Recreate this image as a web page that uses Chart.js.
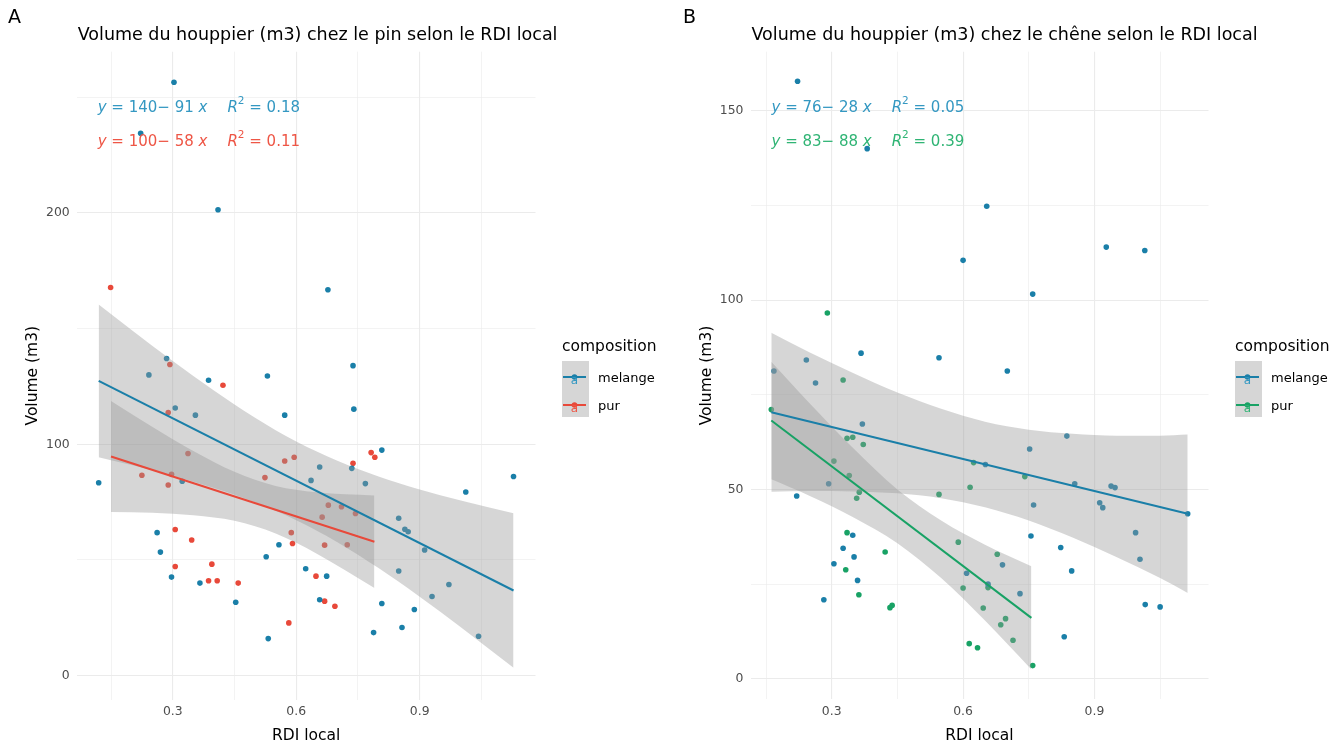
<!DOCTYPE html>
<html>
<head>
<meta charset="utf-8">
<script src="https://cdn.jsdelivr.net/npm/chart.js@4.4.1/dist/chart.umd.min.js"></script>
<style>
  html, body { margin: 0; padding: 0; background: #fff; }
  #wrap { position: relative; width: 1344px; height: 745px; overflow: hidden; }
  #wrap canvas { position: absolute; top: 0; }
</style>
</head>
<body>
<div id="wrap">
  <canvas id="chartA" width="672" height="745" style="left:0"></canvas>
  <canvas id="chartB" width="672" height="745" style="left:672px"></canvas>
</div>
<script>
// ---- data ----

// Panel A : pin
const pinMelange = [
  [0.303, 256.5], [0.222, 234.4], [0.41, 201.4], [0.677, 166.8], [0.285, 137.1],
  [0.242, 130.0], [0.53, 129.5], [0.738, 134.0], [0.387, 127.7], [0.306, 115.7],
  [0.355, 112.6], [0.572, 112.6], [0.74, 115.2], [0.808, 97.5], [0.735, 89.6],
  [0.657, 90.2], [0.12, 83.4], [0.323, 84.0], [0.636, 84.4], [0.768, 83.0],
  [1.128, 86.1], [1.012, 79.4], [0.849, 68.0], [0.864, 63.3], [0.872, 62.2],
  [0.262, 61.8], [0.558, 56.6], [0.912, 54.3], [0.27, 53.4], [0.527, 51.4],
  [0.623, 46.2], [0.297, 42.6], [0.366, 40.0], [0.674, 43.0], [0.971, 39.4],
  [0.849, 45.2], [0.93, 34.2], [0.453, 31.7], [0.657, 32.8], [0.808, 31.2],
  [0.887, 28.6], [0.857, 20.8], [0.788, 18.6], [0.532, 16.0], [1.043, 17.0]
];
const pinPur = [
  [0.149, 167.8], [0.293, 134.5], [0.422, 125.5], [0.289, 113.7], [0.782, 96.4],
  [0.791, 94.4], [0.337, 96.0], [0.572, 92.8], [0.595, 94.4], [0.738, 91.8],
  [0.225, 86.6], [0.297, 87.0], [0.289, 82.4], [0.524, 85.6], [0.678, 73.7],
  [0.71, 73.0], [0.744, 70.1], [0.663, 68.5], [0.306, 63.2], [0.346, 58.6],
  [0.588, 61.8], [0.591, 57.1], [0.669, 56.4], [0.724, 56.6], [0.395, 48.2],
  [0.306, 47.2], [0.387, 41.0], [0.408, 41.0], [0.459, 40.0], [0.648, 43.0],
  [0.669, 32.2], [0.694, 30.0], [0.582, 22.8]
];
// fitted lines (ends) and confidence bands
const pinMelangeFitX = [0.12, 1.128];
const pinMelangeFitY = [127.4, 36.8];
const pinPurFitX = [0.15, 0.79];
const pinPurFitY = [94.7, 57.9];
const pinMelangeBandX  = [0.12, 0.2, 0.3, 0.4, 0.5, 0.6, 0.7, 0.8, 0.9, 1.0, 1.128];
const pinMelangeBandHi = [160.4, 149.4, 136.0, 123.3, 111.5, 101.2, 92.9, 86.1, 80.5, 75.7, 70.2];
const pinMelangeBandLo = [94.4, 91.0, 86.4, 81.1, 74.9, 67.2, 57.7, 46.5, 34.1, 20.9, 3.4];
const pinPurBandX  = [0.15, 0.25, 0.35, 0.45, 0.55, 0.65, 0.79];
const pinPurBandHi = [118.7, 107.6, 97.1, 88.1, 82.0, 79.3, 77.9];
const pinPurBandLo = [70.7, 70.4, 69.3, 66.9, 61.4, 52.7, 37.9];
const pinEqIntercept = [140, 100];
const pinEqSlope = [91, 58];
const pinEqR2 = ['0.18', '0.11'];

// Panel B : chene
const cheneMelange = [
  [0.222, 157.8], [0.381, 140.0], [0.654, 124.8], [0.6, 110.5], [0.927, 114.0],
  [1.015, 113.1], [0.759, 101.6], [0.367, 86.0], [0.545, 84.8], [0.242, 84.2],
  [0.701, 81.3], [0.168, 81.3], [0.263, 78.1], [0.37, 67.3], [0.837, 64.1],
  [0.752, 60.7], [0.651, 56.6], [0.293, 51.5], [0.855, 51.5], [0.938, 50.9],
  [0.947, 50.5], [0.22, 48.3], [0.761, 45.9], [0.912, 46.5], [0.919, 45.2],
  [1.113, 43.6], [0.348, 37.9], [0.755, 37.7], [0.994, 38.6], [0.326, 34.5],
  [0.823, 34.7], [0.351, 32.2], [0.69, 30.1], [1.004, 31.6], [0.305, 30.4],
  [0.608, 27.9], [0.848, 28.5], [0.359, 26.0], [0.657, 25.0], [0.73, 22.5],
  [0.282, 20.9], [1.016, 19.6], [1.05, 19.0], [0.831, 11.1]
];
const chenePur = [
  [0.29, 96.6], [0.326, 78.9], [0.162, 71.1], [0.335, 63.5], [0.348, 63.8],
  [0.372, 61.9], [0.305, 57.5], [0.624, 57.1], [0.34, 53.7], [0.741, 53.4],
  [0.616, 50.6], [0.545, 48.7], [0.357, 47.7], [0.363, 49.3], [0.335, 38.6],
  [0.422, 33.5], [0.589, 36.1], [0.678, 32.9], [0.332, 28.8], [0.6, 24.0],
  [0.657, 24.1], [0.362, 22.2], [0.433, 18.8], [0.438, 19.4], [0.646, 18.7],
  [0.697, 15.9], [0.686, 14.3], [0.714, 10.2], [0.614, 9.3], [0.633, 8.2],
  [0.759, 3.5]
];
const cheneMelangeFitX = [0.162, 1.113];
const cheneMelangeFitY = [70.4, 43.6];
const chenePurFitX = [0.162, 0.756];
const chenePurFitY = [68.2, 16.1];
const cheneMelangeBandX  = [0.162, 0.25, 0.35, 0.45, 0.55, 0.65, 0.75, 0.85, 0.95, 1.05, 1.113];
const cheneMelangeBandHi = [91.4, 86.2, 80.7, 75.6, 71.3, 67.9, 65.8, 64.7, 64.2, 64.2, 64.5];
const cheneMelangeBandLo = [49.4, 49.6, 49.5, 49.0, 47.7, 45.3, 41.8, 37.3, 32.2, 26.6, 22.7];
const chenePurBandX  = [0.162, 0.25, 0.35, 0.45, 0.55, 0.65, 0.756];
const chenePurBandHi = [83.7, 72.7, 60.8, 50.0, 41.8, 35.4, 29.7];
const chenePurBandLo = [52.7, 48.3, 42.6, 35.8, 26.6, 15.4, 2.5];
const cheneEqIntercept = [76, 83];
const cheneEqSlope = [28, 88];
const cheneEqR2 = ['0.05', '0.39'];

// axes
const groupNames = ['melange', 'pur'];
const xGridTicks = [0.15, 0.3, 0.45, 0.6, 0.75, 0.9, 1.05];
const xLabelTicks = [0.3, 0.6, 0.9];
const pinYGrid = [0, 50, 100, 150, 200, 250];
const pinYLabels = [0, 100, 200];
const cheneYGrid = [0, 25, 50, 75, 100, 125, 150];
const cheneYLabels = [0, 50, 100, 150];

// ---- styling ----
const FONT = '"DejaVu Sans", sans-serif';
const BLUE = '#1a7fa8';
const RED = '#e8493a';
const GREEN = '#18a265';
const BAND = 'rgba(153,153,153,0.4)';
const GRID = '#ebebeb';

const toXY = (xs, ys) => xs.map((x, i) => ({ x: x, y: ys[i] }));
const toPts = arr => arr.map(p => ({ x: p[0], y: p[1] }));

function drawRich(ctx, parts, x, y, size, color) {
  ctx.fillStyle = color;
  ctx.textBaseline = 'middle';
  ctx.textAlign = 'left';
  parts.forEach(s => {
    const sz = s.sup ? size * 0.7 : size;
    ctx.font = (s.it ? 'italic ' : '') + sz + 'px ' + FONT;
    ctx.fillText(s.t, x, s.sup ? y - size * 0.42 : y);
    x += ctx.measureText(s.t).width;
  });
  return x;
}

function decorPlugin(p) {
  return {
    id: 'decor',
    afterDraw(chart) {
      const ctx = chart.ctx;
      const area = chart.chartArea;
      ctx.save();
      // tag
      ctx.fillStyle = '#000';
      ctx.textBaseline = 'middle';
      ctx.textAlign = 'left';
      ctx.font = '19px ' + FONT;
      ctx.fillText(p.tag, p.tagX, 18.5);
      // title
      ctx.font = '17.5px ' + FONT;
      ctx.fillText(p.title, area.left + 1, 35);
      // regression equations
      p.groups.forEach((g, i) => {
        const y = 108 + i * 34;
        const end = drawRich(ctx, [
          { t: 'y', it: true },
          { t: ' = ' + p.eqIntercept[i] + '\u2212 ' + p.eqSlope[i] + ' ' },
          { t: 'x', it: true }
        ], area.left + 21, y, 15, g.textColor);
        drawRich(ctx, [
          { t: 'R', it: true },
          { t: '2', sup: true },
          { t: ' = ' + p.eqR2[i] }
        ], end + 20, y, 15, g.textColor);
      });
      // legend
      const lx = p.legendX;
      ctx.fillStyle = '#000';
      ctx.font = '15.5px ' + FONT;
      ctx.fillText('composition', lx, 347);
      ctx.fillStyle = '#d6d6d6';
      ctx.fillRect(lx, 361, 27, 56);
      p.groups.forEach((g, i) => {
        const cy = 379 + i * 28;
        ctx.strokeStyle = g.color;
        ctx.lineWidth = 2;
        ctx.beginPath();
        ctx.moveTo(lx + 1, cy - 2);
        ctx.lineTo(lx + 24, cy - 2);
        ctx.stroke();
        ctx.fillStyle = g.color;
        ctx.beginPath();
        ctx.arc(lx + 12.5, cy - 2, 2.8, 0, Math.PI * 2);
        ctx.fill();
        ctx.fillStyle = g.textColor;
        ctx.font = '12px ' + FONT;
        ctx.textAlign = 'center';
        ctx.fillText('a', lx + 12.5, cy + 2);
        ctx.textAlign = 'left';
        ctx.fillStyle = '#000';
        ctx.font = '13px ' + FONT;
        ctx.fillText(groupNames[i], lx + 36, cy);
      });
      ctx.restore();
    }
  };
}

function makePanel(canvasId, p) {
  const datasets = [];
  p.groups.forEach(g => {
    datasets.push({
      type: 'line', data: toXY(g.fitX, g.fitY), borderColor: g.color,
      borderWidth: 2, pointRadius: 0, fill: false, order: 0
    });
  });
  p.groups.forEach(g => {
    const idx = datasets.length;
    datasets.push({
      type: 'line', data: toXY(g.bandX, g.bandHi), borderColor: 'transparent',
      borderWidth: 0, pointRadius: 0, backgroundColor: BAND, fill: idx + 1,
      cubicInterpolationMode: 'monotone', order: 1
    });
    datasets.push({
      type: 'line', data: toXY(g.bandX, g.bandLo), borderColor: 'transparent',
      borderWidth: 0, pointRadius: 0, fill: false,
      cubicInterpolationMode: 'monotone', order: 1
    });
  });
  p.groups.forEach(g => {
    datasets.push({
      type: 'scatter', data: toPts(g.points), backgroundColor: g.color,
      borderWidth: 0, pointRadius: 2.8, order: 2
    });
  });

  const tickFont = { family: FONT, size: 12.4 };
  const titleFont = { family: FONT, size: 15.5 };

  return new Chart(document.getElementById(canvasId), {
    type: 'scatter',
    data: { datasets: datasets },
    options: {
      responsive: false,
      animation: false,
      layout: { padding: { top: p.area.top, right: 672 - p.area.right, left: 0, bottom: 0 } },
      plugins: { legend: { display: false }, tooltip: { enabled: false } },
      scales: {
        x: {
          type: 'linear', min: p.xMin, max: p.xMax,
          afterBuildTicks: s => { s.ticks = xGridTicks.map(v => ({ value: v })); },
          afterFit: s => { s.height = 745 - p.area.bottom; },
          ticks: {
            autoSkip: false, maxRotation: 0, padding: 5, color: '#4d4d4d', font: tickFont,
            callback: v => xLabelTicks.includes(v) ? v.toFixed(1) : ''
          },
          grid: {
            color: GRID, drawTicks: false,
            lineWidth: c => (c.tick && xLabelTicks.includes(c.tick.value)) ? 1.1 : 0.6
          },
          border: { display: false },
          title: { display: true, text: 'RDI local', color: '#000', font: titleFont, padding: { top: 0, bottom: 0 } }
        },
        y: {
          type: 'linear', min: p.yMin, max: p.yMax,
          afterBuildTicks: s => { s.ticks = p.yGrid.map(v => ({ value: v })); },
          afterFit: s => { s.width = p.area.left; },
          ticks: {
            autoSkip: false, padding: 7, color: '#4d4d4d', font: tickFont,
            callback: v => p.yLabels.includes(v) ? String(v) : ''
          },
          grid: {
            color: GRID, drawTicks: false,
            lineWidth: c => (c.tick && p.yLabels.includes(c.tick.value)) ? 1.1 : 0.6
          },
          border: { display: false },
          title: { display: true, text: 'Volume (m3)', color: '#000', font: titleFont, padding: { top: p.yTitlePad, bottom: 0 } }
        }
      }
    },
    plugins: [decorPlugin(p)]
  });
}

makePanel('chartA', {
  tag: 'A', tagX: 8,
  title: 'Volume du houppier (m3) chez le pin selon le RDI local',
  area: { left: 76.7, right: 535.5, top: 51.7, bottom: 699.7 },
  xMin: 0.0666, xMax: 1.1814, yMin: -10.4, yMax: 269.7,
  yGrid: pinYGrid, yLabels: pinYLabels, yTitlePad: 23.5,
  legendX: 562,
  eqIntercept: pinEqIntercept, eqSlope: pinEqSlope, eqR2: pinEqR2,
  groups: [
    { color: BLUE, textColor: '#3498c2', points: pinMelange, fitX: pinMelangeFitX, fitY: pinMelangeFitY,
      bandX: pinMelangeBandX, bandHi: pinMelangeBandHi, bandLo: pinMelangeBandLo },
    { color: RED, textColor: '#ee5646', points: pinPur, fitX: pinPurFitX, fitY: pinPurFitY,
      bandX: pinPurBandX, bandHi: pinPurBandHi, bandLo: pinPurBandLo }
  ]
});

makePanel('chartB', {
  tag: 'B', tagX: 11,
  title: 'Volume du houppier (m3) chez le ch\u00eane selon le RDI local',
  area: { left: 78.5, right: 536.5, top: 51.7, bottom: 699.3 },
  xMin: 0.1145, xMax: 1.1605, yMin: -5.4, yMax: 165.6,
  yGrid: cheneYGrid, yLabels: cheneYLabels, yTitlePad: 25.5,
  legendX: 563,
  eqIntercept: cheneEqIntercept, eqSlope: cheneEqSlope, eqR2: cheneEqR2,
  groups: [
    { color: BLUE, textColor: '#3498c2', points: cheneMelange, fitX: cheneMelangeFitX, fitY: cheneMelangeFitY,
      bandX: cheneMelangeBandX, bandHi: cheneMelangeBandHi, bandLo: cheneMelangeBandLo },
    { color: GREEN, textColor: '#2fb474', points: chenePur, fitX: chenePurFitX, fitY: chenePurFitY,
      bandX: chenePurBandX, bandHi: chenePurBandHi, bandLo: chenePurBandLo }
  ]
});
</script>
</body>
</html>
